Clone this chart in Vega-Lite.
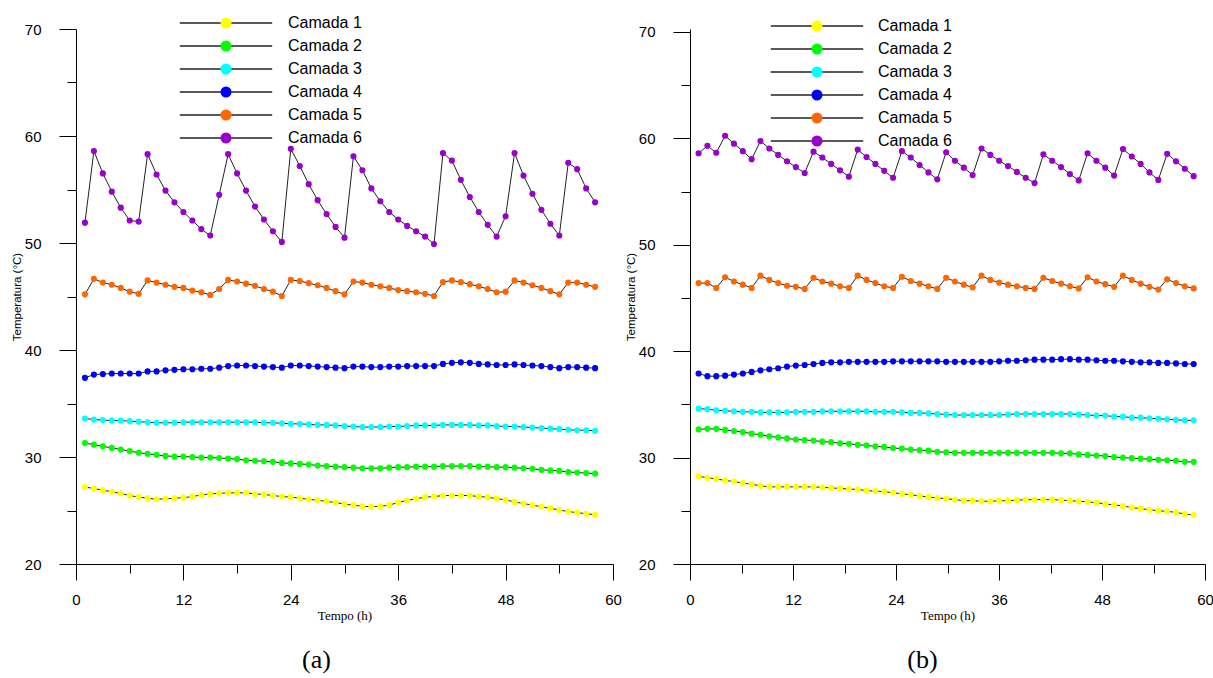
{
"$schema": "https://vega.github.io/schema/vega-lite/v6.json",
"background": "white",
"padding": {"left": 11, "top": 15, "right": 5, "bottom": 5},
"spacing": 3,
"config": {
  "view": {"stroke": null},
  "font": "Liberation Sans",
  "axis": {"domainColor": "black", "tickColor": "black", "labelColor": "black", "titleColor": "black", "grid": false, "labelFont": "Liberation Sans", "labelFontSize": 15, "tickWidth": 1, "domainWidth": 1, "labelFlush": false, "labelOverlap": false}
},
"datasets": {
"a": [
{"c":"Camada 1","t":1,"v":27.2},{"c":"Camada 1","t":2,"v":27.05},{"c":"Camada 1","t":3,"v":26.9},{"c":"Camada 1","t":4,"v":26.75},{"c":"Camada 1","t":5,"v":26.6},{"c":"Camada 1","t":6,"v":26.4},{"c":"Camada 1","t":7,"v":26.25},{"c":"Camada 1","t":8,"v":26.15},{"c":"Camada 1","t":9,"v":26.05},{"c":"Camada 1","t":10,"v":26.1},
{"c":"Camada 1","t":11,"v":26.15},{"c":"Camada 1","t":12,"v":26.2},{"c":"Camada 1","t":13,"v":26.3},{"c":"Camada 1","t":14,"v":26.45},{"c":"Camada 1","t":15,"v":26.55},{"c":"Camada 1","t":16,"v":26.6},{"c":"Camada 1","t":17,"v":26.65},{"c":"Camada 1","t":18,"v":26.65},{"c":"Camada 1","t":19,"v":26.65},{"c":"Camada 1","t":20,"v":26.55},
{"c":"Camada 1","t":21,"v":26.5},{"c":"Camada 1","t":22,"v":26.4},{"c":"Camada 1","t":23,"v":26.3},{"c":"Camada 1","t":24,"v":26.25},{"c":"Camada 1","t":25,"v":26.15},{"c":"Camada 1","t":26,"v":26.05},{"c":"Camada 1","t":27,"v":25.95},{"c":"Camada 1","t":28,"v":25.85},{"c":"Camada 1","t":29,"v":25.75},{"c":"Camada 1","t":30,"v":25.6},
{"c":"Camada 1","t":31,"v":25.5},{"c":"Camada 1","t":32,"v":25.4},{"c":"Camada 1","t":33,"v":25.35},{"c":"Camada 1","t":34,"v":25.4},{"c":"Camada 1","t":35,"v":25.5},{"c":"Camada 1","t":36,"v":25.75},{"c":"Camada 1","t":37,"v":25.95},{"c":"Camada 1","t":38,"v":26.1},{"c":"Camada 1","t":39,"v":26.25},{"c":"Camada 1","t":40,"v":26.3},
{"c":"Camada 1","t":41,"v":26.4},{"c":"Camada 1","t":42,"v":26.4},{"c":"Camada 1","t":43,"v":26.4},{"c":"Camada 1","t":44,"v":26.4},{"c":"Camada 1","t":45,"v":26.3},{"c":"Camada 1","t":46,"v":26.25},{"c":"Camada 1","t":47,"v":26.1},{"c":"Camada 1","t":48,"v":26.0},{"c":"Camada 1","t":49,"v":25.8},{"c":"Camada 1","t":50,"v":25.65},
{"c":"Camada 1","t":51,"v":25.5},{"c":"Camada 1","t":52,"v":25.35},{"c":"Camada 1","t":53,"v":25.2},{"c":"Camada 1","t":54,"v":25.05},{"c":"Camada 1","t":55,"v":24.9},{"c":"Camada 1","t":56,"v":24.8},{"c":"Camada 1","t":57,"v":24.7},{"c":"Camada 1","t":58,"v":24.6},
{"c":"Camada 2","t":1,"v":31.3},{"c":"Camada 2","t":2,"v":31.15},{"c":"Camada 2","t":3,"v":31.0},{"c":"Camada 2","t":4,"v":30.85},{"c":"Camada 2","t":5,"v":30.7},{"c":"Camada 2","t":6,"v":30.55},{"c":"Camada 2","t":7,"v":30.4},{"c":"Camada 2","t":8,"v":30.3},{"c":"Camada 2","t":9,"v":30.2},{"c":"Camada 2","t":10,"v":30.1},
{"c":"Camada 2","t":11,"v":30.05},{"c":"Camada 2","t":12,"v":30.05},{"c":"Camada 2","t":13,"v":30.0},{"c":"Camada 2","t":14,"v":29.95},{"c":"Camada 2","t":15,"v":29.95},{"c":"Camada 2","t":16,"v":29.9},{"c":"Camada 2","t":17,"v":29.85},{"c":"Camada 2","t":18,"v":29.8},{"c":"Camada 2","t":19,"v":29.7},{"c":"Camada 2","t":20,"v":29.65},
{"c":"Camada 2","t":21,"v":29.6},{"c":"Camada 2","t":22,"v":29.55},{"c":"Camada 2","t":23,"v":29.45},{"c":"Camada 2","t":24,"v":29.4},{"c":"Camada 2","t":25,"v":29.35},{"c":"Camada 2","t":26,"v":29.3},{"c":"Camada 2","t":27,"v":29.2},{"c":"Camada 2","t":28,"v":29.15},{"c":"Camada 2","t":29,"v":29.1},{"c":"Camada 2","t":30,"v":29.05},
{"c":"Camada 2","t":31,"v":29.0},{"c":"Camada 2","t":32,"v":28.95},{"c":"Camada 2","t":33,"v":28.95},{"c":"Camada 2","t":34,"v":28.95},{"c":"Camada 2","t":35,"v":29.0},{"c":"Camada 2","t":36,"v":29.05},{"c":"Camada 2","t":37,"v":29.05},{"c":"Camada 2","t":38,"v":29.1},{"c":"Camada 2","t":39,"v":29.1},{"c":"Camada 2","t":40,"v":29.1},
{"c":"Camada 2","t":41,"v":29.15},{"c":"Camada 2","t":42,"v":29.15},{"c":"Camada 2","t":43,"v":29.15},{"c":"Camada 2","t":44,"v":29.15},{"c":"Camada 2","t":45,"v":29.1},{"c":"Camada 2","t":46,"v":29.1},{"c":"Camada 2","t":47,"v":29.05},{"c":"Camada 2","t":48,"v":29.05},{"c":"Camada 2","t":49,"v":29.0},{"c":"Camada 2","t":50,"v":28.95},
{"c":"Camada 2","t":51,"v":28.9},{"c":"Camada 2","t":52,"v":28.8},{"c":"Camada 2","t":53,"v":28.75},{"c":"Camada 2","t":54,"v":28.7},{"c":"Camada 2","t":55,"v":28.6},{"c":"Camada 2","t":56,"v":28.55},{"c":"Camada 2","t":57,"v":28.5},{"c":"Camada 2","t":58,"v":28.45},
{"c":"Camada 3","t":1,"v":33.6},{"c":"Camada 3","t":2,"v":33.5},{"c":"Camada 3","t":3,"v":33.45},{"c":"Camada 3","t":4,"v":33.4},{"c":"Camada 3","t":5,"v":33.4},{"c":"Camada 3","t":6,"v":33.35},{"c":"Camada 3","t":7,"v":33.3},{"c":"Camada 3","t":8,"v":33.25},{"c":"Camada 3","t":9,"v":33.2},{"c":"Camada 3","t":10,"v":33.2},
{"c":"Camada 3","t":11,"v":33.2},{"c":"Camada 3","t":12,"v":33.25},{"c":"Camada 3","t":13,"v":33.25},{"c":"Camada 3","t":14,"v":33.25},{"c":"Camada 3","t":15,"v":33.25},{"c":"Camada 3","t":16,"v":33.25},{"c":"Camada 3","t":17,"v":33.25},{"c":"Camada 3","t":18,"v":33.25},{"c":"Camada 3","t":19,"v":33.25},{"c":"Camada 3","t":20,"v":33.25},
{"c":"Camada 3","t":21,"v":33.2},{"c":"Camada 3","t":22,"v":33.2},{"c":"Camada 3","t":23,"v":33.15},{"c":"Camada 3","t":24,"v":33.1},{"c":"Camada 3","t":25,"v":33.1},{"c":"Camada 3","t":26,"v":33.05},{"c":"Camada 3","t":27,"v":33.0},{"c":"Camada 3","t":28,"v":33.0},{"c":"Camada 3","t":29,"v":32.95},{"c":"Camada 3","t":30,"v":32.9},
{"c":"Camada 3","t":31,"v":32.85},{"c":"Camada 3","t":32,"v":32.8},{"c":"Camada 3","t":33,"v":32.8},{"c":"Camada 3","t":34,"v":32.8},{"c":"Camada 3","t":35,"v":32.85},{"c":"Camada 3","t":36,"v":32.85},{"c":"Camada 3","t":37,"v":32.9},{"c":"Camada 3","t":38,"v":32.95},{"c":"Camada 3","t":39,"v":32.95},{"c":"Camada 3","t":40,"v":32.95},
{"c":"Camada 3","t":41,"v":33.0},{"c":"Camada 3","t":42,"v":33.0},{"c":"Camada 3","t":43,"v":33.0},{"c":"Camada 3","t":44,"v":33.0},{"c":"Camada 3","t":45,"v":32.95},{"c":"Camada 3","t":46,"v":32.95},{"c":"Camada 3","t":47,"v":32.9},{"c":"Camada 3","t":48,"v":32.85},{"c":"Camada 3","t":49,"v":32.85},{"c":"Camada 3","t":50,"v":32.8},
{"c":"Camada 3","t":51,"v":32.75},{"c":"Camada 3","t":52,"v":32.7},{"c":"Camada 3","t":53,"v":32.65},{"c":"Camada 3","t":54,"v":32.6},{"c":"Camada 3","t":55,"v":32.55},{"c":"Camada 3","t":56,"v":32.5},{"c":"Camada 3","t":57,"v":32.5},{"c":"Camada 3","t":58,"v":32.45},
{"c":"Camada 4","t":1,"v":37.4},{"c":"Camada 4","t":2,"v":37.7},{"c":"Camada 4","t":3,"v":37.75},{"c":"Camada 4","t":4,"v":37.8},{"c":"Camada 4","t":5,"v":37.8},{"c":"Camada 4","t":6,"v":37.8},{"c":"Camada 4","t":7,"v":37.8},{"c":"Camada 4","t":8,"v":38.0},{"c":"Camada 4","t":9,"v":38.0},{"c":"Camada 4","t":10,"v":38.1},
{"c":"Camada 4","t":11,"v":38.15},{"c":"Camada 4","t":12,"v":38.2},{"c":"Camada 4","t":13,"v":38.2},{"c":"Camada 4","t":14,"v":38.25},{"c":"Camada 4","t":15,"v":38.25},{"c":"Camada 4","t":16,"v":38.35},{"c":"Camada 4","t":17,"v":38.5},{"c":"Camada 4","t":18,"v":38.55},{"c":"Camada 4","t":19,"v":38.55},{"c":"Camada 4","t":20,"v":38.5},
{"c":"Camada 4","t":21,"v":38.45},{"c":"Camada 4","t":22,"v":38.4},{"c":"Camada 4","t":23,"v":38.35},{"c":"Camada 4","t":24,"v":38.55},{"c":"Camada 4","t":25,"v":38.55},{"c":"Camada 4","t":26,"v":38.5},{"c":"Camada 4","t":27,"v":38.45},{"c":"Camada 4","t":28,"v":38.4},{"c":"Camada 4","t":29,"v":38.35},{"c":"Camada 4","t":30,"v":38.3},
{"c":"Camada 4","t":31,"v":38.45},{"c":"Camada 4","t":32,"v":38.45},{"c":"Camada 4","t":33,"v":38.4},{"c":"Camada 4","t":34,"v":38.4},{"c":"Camada 4","t":35,"v":38.45},{"c":"Camada 4","t":36,"v":38.45},{"c":"Camada 4","t":37,"v":38.5},{"c":"Camada 4","t":38,"v":38.5},{"c":"Camada 4","t":39,"v":38.5},{"c":"Camada 4","t":40,"v":38.5},
{"c":"Camada 4","t":41,"v":38.7},{"c":"Camada 4","t":42,"v":38.8},{"c":"Camada 4","t":43,"v":38.85},{"c":"Camada 4","t":44,"v":38.8},{"c":"Camada 4","t":45,"v":38.7},{"c":"Camada 4","t":46,"v":38.65},{"c":"Camada 4","t":47,"v":38.6},{"c":"Camada 4","t":48,"v":38.6},{"c":"Camada 4","t":49,"v":38.65},{"c":"Camada 4","t":50,"v":38.6},
{"c":"Camada 4","t":51,"v":38.55},{"c":"Camada 4","t":52,"v":38.5},{"c":"Camada 4","t":53,"v":38.4},{"c":"Camada 4","t":54,"v":38.3},{"c":"Camada 4","t":55,"v":38.4},{"c":"Camada 4","t":56,"v":38.4},{"c":"Camada 4","t":57,"v":38.35},{"c":"Camada 4","t":58,"v":38.3},
{"c":"Camada 5","t":1,"v":45.2},{"c":"Camada 5","t":2,"v":46.65},{"c":"Camada 5","t":3,"v":46.3},{"c":"Camada 5","t":4,"v":46.1},{"c":"Camada 5","t":5,"v":45.8},{"c":"Camada 5","t":6,"v":45.45},{"c":"Camada 5","t":7,"v":45.25},{"c":"Camada 5","t":8,"v":46.5},{"c":"Camada 5","t":9,"v":46.3},{"c":"Camada 5","t":10,"v":46.1},
{"c":"Camada 5","t":11,"v":45.9},{"c":"Camada 5","t":12,"v":45.8},{"c":"Camada 5","t":13,"v":45.55},{"c":"Camada 5","t":14,"v":45.4},{"c":"Camada 5","t":15,"v":45.15},{"c":"Camada 5","t":16,"v":45.7},{"c":"Camada 5","t":17,"v":46.55},{"c":"Camada 5","t":18,"v":46.4},{"c":"Camada 5","t":19,"v":46.2},{"c":"Camada 5","t":20,"v":46.0},
{"c":"Camada 5","t":21,"v":45.7},{"c":"Camada 5","t":22,"v":45.45},{"c":"Camada 5","t":23,"v":45.05},{"c":"Camada 5","t":24,"v":46.55},{"c":"Camada 5","t":25,"v":46.45},{"c":"Camada 5","t":26,"v":46.25},{"c":"Camada 5","t":27,"v":46.05},{"c":"Camada 5","t":28,"v":45.8},{"c":"Camada 5","t":29,"v":45.5},{"c":"Camada 5","t":30,"v":45.2},
{"c":"Camada 5","t":31,"v":46.4},{"c":"Camada 5","t":32,"v":46.3},{"c":"Camada 5","t":33,"v":46.1},{"c":"Camada 5","t":34,"v":45.95},{"c":"Camada 5","t":35,"v":45.8},{"c":"Camada 5","t":36,"v":45.6},{"c":"Camada 5","t":37,"v":45.5},{"c":"Camada 5","t":38,"v":45.4},{"c":"Camada 5","t":39,"v":45.25},{"c":"Camada 5","t":40,"v":45.05},
{"c":"Camada 5","t":41,"v":46.35},{"c":"Camada 5","t":42,"v":46.5},{"c":"Camada 5","t":43,"v":46.35},{"c":"Camada 5","t":44,"v":46.15},{"c":"Camada 5","t":45,"v":45.95},{"c":"Camada 5","t":46,"v":45.7},{"c":"Camada 5","t":47,"v":45.4},{"c":"Camada 5","t":48,"v":45.45},{"c":"Camada 5","t":49,"v":46.5},{"c":"Camada 5","t":50,"v":46.3},
{"c":"Camada 5","t":51,"v":46.05},{"c":"Camada 5","t":52,"v":45.8},{"c":"Camada 5","t":53,"v":45.5},{"c":"Camada 5","t":54,"v":45.2},{"c":"Camada 5","t":55,"v":46.3},{"c":"Camada 5","t":56,"v":46.3},{"c":"Camada 5","t":57,"v":46.1},{"c":"Camada 5","t":58,"v":45.9},
{"c":"Camada 6","t":1,"v":51.9},{"c":"Camada 6","t":2,"v":58.6},{"c":"Camada 6","t":3,"v":56.5},{"c":"Camada 6","t":4,"v":54.8},{"c":"Camada 6","t":5,"v":53.3},{"c":"Camada 6","t":6,"v":52.1},{"c":"Camada 6","t":7,"v":52.0},{"c":"Camada 6","t":8,"v":58.3},{"c":"Camada 6","t":9,"v":56.4},{"c":"Camada 6","t":10,"v":54.9},
{"c":"Camada 6","t":11,"v":53.8},{"c":"Camada 6","t":12,"v":52.9},{"c":"Camada 6","t":13,"v":52.1},{"c":"Camada 6","t":14,"v":51.3},{"c":"Camada 6","t":15,"v":50.7},{"c":"Camada 6","t":16,"v":54.5},{"c":"Camada 6","t":17,"v":58.3},{"c":"Camada 6","t":18,"v":56.5},{"c":"Camada 6","t":19,"v":54.9},{"c":"Camada 6","t":20,"v":53.4},
{"c":"Camada 6","t":21,"v":52.2},{"c":"Camada 6","t":22,"v":51.1},{"c":"Camada 6","t":23,"v":50.1},{"c":"Camada 6","t":24,"v":58.8},{"c":"Camada 6","t":25,"v":57.2},{"c":"Camada 6","t":26,"v":55.5},{"c":"Camada 6","t":27,"v":54.0},{"c":"Camada 6","t":28,"v":52.7},{"c":"Camada 6","t":29,"v":51.5},{"c":"Camada 6","t":30,"v":50.5},
{"c":"Camada 6","t":31,"v":58.1},{"c":"Camada 6","t":32,"v":56.8},{"c":"Camada 6","t":33,"v":55.1},{"c":"Camada 6","t":34,"v":53.9},{"c":"Camada 6","t":35,"v":52.9},{"c":"Camada 6","t":36,"v":52.2},{"c":"Camada 6","t":37,"v":51.6},{"c":"Camada 6","t":38,"v":51.1},{"c":"Camada 6","t":39,"v":50.6},{"c":"Camada 6","t":40,"v":49.9},
{"c":"Camada 6","t":41,"v":58.4},{"c":"Camada 6","t":42,"v":57.7},{"c":"Camada 6","t":43,"v":55.9},{"c":"Camada 6","t":44,"v":54.3},{"c":"Camada 6","t":45,"v":52.9},{"c":"Camada 6","t":46,"v":51.7},{"c":"Camada 6","t":47,"v":50.6},{"c":"Camada 6","t":48,"v":52.5},{"c":"Camada 6","t":49,"v":58.4},{"c":"Camada 6","t":50,"v":56.3},
{"c":"Camada 6","t":51,"v":54.6},{"c":"Camada 6","t":52,"v":53.1},{"c":"Camada 6","t":53,"v":51.8},{"c":"Camada 6","t":54,"v":50.7},{"c":"Camada 6","t":55,"v":57.5},{"c":"Camada 6","t":56,"v":56.9},{"c":"Camada 6","t":57,"v":55.1},{"c":"Camada 6","t":58,"v":53.8}
],
"b": [
{"c":"Camada 1","t":1,"v":28.25},{"c":"Camada 1","t":2.03,"v":28.1},{"c":"Camada 1","t":3.06,"v":28.0},{"c":"Camada 1","t":4.09,"v":27.85},{"c":"Camada 1","t":5.12,"v":27.75},{"c":"Camada 1","t":6.15,"v":27.6},{"c":"Camada 1","t":7.18,"v":27.5},{"c":"Camada 1","t":8.21,"v":27.35},{"c":"Camada 1","t":9.24,"v":27.25},{"c":"Camada 1","t":10.27,"v":27.25},
{"c":"Camada 1","t":11.3,"v":27.25},{"c":"Camada 1","t":12.33,"v":27.25},{"c":"Camada 1","t":13.36,"v":27.25},{"c":"Camada 1","t":14.39,"v":27.25},{"c":"Camada 1","t":15.42,"v":27.2},{"c":"Camada 1","t":16.45,"v":27.15},{"c":"Camada 1","t":17.48,"v":27.1},{"c":"Camada 1","t":18.51,"v":27.05},{"c":"Camada 1","t":19.54,"v":27.0},{"c":"Camada 1","t":20.57,"v":26.9},
{"c":"Camada 1","t":21.6,"v":26.85},{"c":"Camada 1","t":22.63,"v":26.8},{"c":"Camada 1","t":23.66,"v":26.7},{"c":"Camada 1","t":24.69,"v":26.6},{"c":"Camada 1","t":25.72,"v":26.5},{"c":"Camada 1","t":26.75,"v":26.4},{"c":"Camada 1","t":27.78,"v":26.3},{"c":"Camada 1","t":28.81,"v":26.2},{"c":"Camada 1","t":29.84,"v":26.15},{"c":"Camada 1","t":30.87,"v":26.05},
{"c":"Camada 1","t":31.9,"v":25.95},{"c":"Camada 1","t":32.93,"v":25.95},{"c":"Camada 1","t":33.96,"v":25.9},{"c":"Camada 1","t":34.99,"v":25.9},{"c":"Camada 1","t":36.02,"v":25.95},{"c":"Camada 1","t":37.05,"v":25.95},{"c":"Camada 1","t":38.08,"v":26.0},{"c":"Camada 1","t":39.11,"v":26.05},{"c":"Camada 1","t":40.14,"v":26.05},{"c":"Camada 1","t":41.17,"v":26.05},
{"c":"Camada 1","t":42.2,"v":26.05},{"c":"Camada 1","t":43.23,"v":26.0},{"c":"Camada 1","t":44.26,"v":25.95},{"c":"Camada 1","t":45.29,"v":25.9},{"c":"Camada 1","t":46.32,"v":25.85},{"c":"Camada 1","t":47.35,"v":25.75},{"c":"Camada 1","t":48.38,"v":25.65},{"c":"Camada 1","t":49.41,"v":25.55},{"c":"Camada 1","t":50.44,"v":25.45},{"c":"Camada 1","t":51.47,"v":25.3},
{"c":"Camada 1","t":52.5,"v":25.2},{"c":"Camada 1","t":53.53,"v":25.1},{"c":"Camada 1","t":54.56,"v":25.0},{"c":"Camada 1","t":55.59,"v":24.95},{"c":"Camada 1","t":56.62,"v":24.85},{"c":"Camada 1","t":57.65,"v":24.7},{"c":"Camada 1","t":58.68,"v":24.6},
{"c":"Camada 2","t":1,"v":32.65},{"c":"Camada 2","t":2.03,"v":32.7},{"c":"Camada 2","t":3.06,"v":32.7},{"c":"Camada 2","t":4.09,"v":32.6},{"c":"Camada 2","t":5.12,"v":32.5},{"c":"Camada 2","t":6.15,"v":32.4},{"c":"Camada 2","t":7.18,"v":32.25},{"c":"Camada 2","t":8.21,"v":32.15},{"c":"Camada 2","t":9.24,"v":32.0},{"c":"Camada 2","t":10.27,"v":31.9},
{"c":"Camada 2","t":11.3,"v":31.8},{"c":"Camada 2","t":12.33,"v":31.7},{"c":"Camada 2","t":13.36,"v":31.65},{"c":"Camada 2","t":14.39,"v":31.6},{"c":"Camada 2","t":15.42,"v":31.5},{"c":"Camada 2","t":16.45,"v":31.45},{"c":"Camada 2","t":17.48,"v":31.35},{"c":"Camada 2","t":18.51,"v":31.3},{"c":"Camada 2","t":19.54,"v":31.2},{"c":"Camada 2","t":20.57,"v":31.15},
{"c":"Camada 2","t":21.6,"v":31.05},{"c":"Camada 2","t":22.63,"v":31.0},{"c":"Camada 2","t":23.66,"v":30.9},{"c":"Camada 2","t":24.69,"v":30.85},{"c":"Camada 2","t":25.72,"v":30.75},{"c":"Camada 2","t":26.75,"v":30.7},{"c":"Camada 2","t":27.78,"v":30.65},{"c":"Camada 2","t":28.81,"v":30.55},{"c":"Camada 2","t":29.84,"v":30.5},{"c":"Camada 2","t":30.87,"v":30.45},
{"c":"Camada 2","t":31.9,"v":30.45},{"c":"Camada 2","t":32.93,"v":30.45},{"c":"Camada 2","t":33.96,"v":30.45},{"c":"Camada 2","t":34.99,"v":30.45},{"c":"Camada 2","t":36.02,"v":30.45},{"c":"Camada 2","t":37.05,"v":30.45},{"c":"Camada 2","t":38.08,"v":30.45},{"c":"Camada 2","t":39.11,"v":30.45},{"c":"Camada 2","t":40.14,"v":30.45},{"c":"Camada 2","t":41.17,"v":30.45},
{"c":"Camada 2","t":42.2,"v":30.45},{"c":"Camada 2","t":43.23,"v":30.4},{"c":"Camada 2","t":44.26,"v":30.4},{"c":"Camada 2","t":45.29,"v":30.3},{"c":"Camada 2","t":46.32,"v":30.25},{"c":"Camada 2","t":47.35,"v":30.2},{"c":"Camada 2","t":48.38,"v":30.15},{"c":"Camada 2","t":49.41,"v":30.05},{"c":"Camada 2","t":50.44,"v":30.0},{"c":"Camada 2","t":51.47,"v":29.95},
{"c":"Camada 2","t":52.5,"v":29.9},{"c":"Camada 2","t":53.53,"v":29.85},{"c":"Camada 2","t":54.56,"v":29.8},{"c":"Camada 2","t":55.59,"v":29.75},{"c":"Camada 2","t":56.62,"v":29.7},{"c":"Camada 2","t":57.65,"v":29.6},{"c":"Camada 2","t":58.68,"v":29.6},
{"c":"Camada 3","t":1,"v":34.6},{"c":"Camada 3","t":2.03,"v":34.55},{"c":"Camada 3","t":3.06,"v":34.45},{"c":"Camada 3","t":4.09,"v":34.4},{"c":"Camada 3","t":5.12,"v":34.35},{"c":"Camada 3","t":6.15,"v":34.3},{"c":"Camada 3","t":7.18,"v":34.3},{"c":"Camada 3","t":8.21,"v":34.25},{"c":"Camada 3","t":9.24,"v":34.25},{"c":"Camada 3","t":10.27,"v":34.25},
{"c":"Camada 3","t":11.3,"v":34.25},{"c":"Camada 3","t":12.33,"v":34.3},{"c":"Camada 3","t":13.36,"v":34.3},{"c":"Camada 3","t":14.39,"v":34.3},{"c":"Camada 3","t":15.42,"v":34.35},{"c":"Camada 3","t":16.45,"v":34.35},{"c":"Camada 3","t":17.48,"v":34.35},{"c":"Camada 3","t":18.51,"v":34.35},{"c":"Camada 3","t":19.54,"v":34.35},{"c":"Camada 3","t":20.57,"v":34.35},
{"c":"Camada 3","t":21.6,"v":34.3},{"c":"Camada 3","t":22.63,"v":34.3},{"c":"Camada 3","t":23.66,"v":34.3},{"c":"Camada 3","t":24.69,"v":34.25},{"c":"Camada 3","t":25.72,"v":34.2},{"c":"Camada 3","t":26.75,"v":34.2},{"c":"Camada 3","t":27.78,"v":34.15},{"c":"Camada 3","t":28.81,"v":34.1},{"c":"Camada 3","t":29.84,"v":34.05},{"c":"Camada 3","t":30.87,"v":34.0},
{"c":"Camada 3","t":31.9,"v":34.0},{"c":"Camada 3","t":32.93,"v":34.0},{"c":"Camada 3","t":33.96,"v":34.0},{"c":"Camada 3","t":34.99,"v":34.0},{"c":"Camada 3","t":36.02,"v":34.0},{"c":"Camada 3","t":37.05,"v":34.05},{"c":"Camada 3","t":38.08,"v":34.1},{"c":"Camada 3","t":39.11,"v":34.1},{"c":"Camada 3","t":40.14,"v":34.1},{"c":"Camada 3","t":41.17,"v":34.1},
{"c":"Camada 3","t":42.2,"v":34.1},{"c":"Camada 3","t":43.23,"v":34.1},{"c":"Camada 3","t":44.26,"v":34.1},{"c":"Camada 3","t":45.29,"v":34.05},{"c":"Camada 3","t":46.32,"v":34.0},{"c":"Camada 3","t":47.35,"v":33.95},{"c":"Camada 3","t":48.38,"v":33.95},{"c":"Camada 3","t":49.41,"v":33.85},{"c":"Camada 3","t":50.44,"v":33.85},{"c":"Camada 3","t":51.47,"v":33.75},
{"c":"Camada 3","t":52.5,"v":33.75},{"c":"Camada 3","t":53.53,"v":33.7},{"c":"Camada 3","t":54.56,"v":33.65},{"c":"Camada 3","t":55.59,"v":33.6},{"c":"Camada 3","t":56.62,"v":33.55},{"c":"Camada 3","t":57.65,"v":33.5},{"c":"Camada 3","t":58.68,"v":33.5},
{"c":"Camada 4","t":1,"v":37.9},{"c":"Camada 4","t":2.03,"v":37.65},{"c":"Camada 4","t":3.06,"v":37.65},{"c":"Camada 4","t":4.09,"v":37.7},{"c":"Camada 4","t":5.12,"v":37.8},{"c":"Camada 4","t":6.15,"v":37.9},{"c":"Camada 4","t":7.18,"v":38.05},{"c":"Camada 4","t":8.21,"v":38.2},{"c":"Camada 4","t":9.24,"v":38.3},{"c":"Camada 4","t":10.27,"v":38.4},
{"c":"Camada 4","t":11.3,"v":38.55},{"c":"Camada 4","t":12.33,"v":38.65},{"c":"Camada 4","t":13.36,"v":38.7},{"c":"Camada 4","t":14.39,"v":38.8},{"c":"Camada 4","t":15.42,"v":38.9},{"c":"Camada 4","t":16.45,"v":38.95},{"c":"Camada 4","t":17.48,"v":38.95},{"c":"Camada 4","t":18.51,"v":39.0},{"c":"Camada 4","t":19.54,"v":39.0},{"c":"Camada 4","t":20.57,"v":39.0},
{"c":"Camada 4","t":21.6,"v":39.0},{"c":"Camada 4","t":22.63,"v":39.0},{"c":"Camada 4","t":23.66,"v":39.05},{"c":"Camada 4","t":24.69,"v":39.05},{"c":"Camada 4","t":25.72,"v":39.05},{"c":"Camada 4","t":26.75,"v":39.05},{"c":"Camada 4","t":27.78,"v":39.05},{"c":"Camada 4","t":28.81,"v":39.05},{"c":"Camada 4","t":29.84,"v":39.0},{"c":"Camada 4","t":30.87,"v":39.0},
{"c":"Camada 4","t":31.9,"v":39.0},{"c":"Camada 4","t":32.93,"v":39.0},{"c":"Camada 4","t":33.96,"v":39.0},{"c":"Camada 4","t":34.99,"v":39.0},{"c":"Camada 4","t":36.02,"v":39.05},{"c":"Camada 4","t":37.05,"v":39.1},{"c":"Camada 4","t":38.08,"v":39.1},{"c":"Camada 4","t":39.11,"v":39.15},{"c":"Camada 4","t":40.14,"v":39.2},{"c":"Camada 4","t":41.17,"v":39.2},
{"c":"Camada 4","t":42.2,"v":39.2},{"c":"Camada 4","t":43.23,"v":39.25},{"c":"Camada 4","t":44.26,"v":39.25},{"c":"Camada 4","t":45.29,"v":39.2},{"c":"Camada 4","t":46.32,"v":39.2},{"c":"Camada 4","t":47.35,"v":39.15},{"c":"Camada 4","t":48.38,"v":39.1},{"c":"Camada 4","t":49.41,"v":39.1},{"c":"Camada 4","t":50.44,"v":39.05},{"c":"Camada 4","t":51.47,"v":39.0},
{"c":"Camada 4","t":52.5,"v":38.95},{"c":"Camada 4","t":53.53,"v":38.95},{"c":"Camada 4","t":54.56,"v":38.9},{"c":"Camada 4","t":55.59,"v":38.9},{"c":"Camada 4","t":56.62,"v":38.85},{"c":"Camada 4","t":57.65,"v":38.8},{"c":"Camada 4","t":58.68,"v":38.8},
{"c":"Camada 5","t":1,"v":46.4},{"c":"Camada 5","t":2.03,"v":46.4},{"c":"Camada 5","t":3.06,"v":45.95},{"c":"Camada 5","t":4.09,"v":46.95},{"c":"Camada 5","t":5.12,"v":46.55},{"c":"Camada 5","t":6.15,"v":46.25},{"c":"Camada 5","t":7.18,"v":45.95},{"c":"Camada 5","t":8.21,"v":47.1},{"c":"Camada 5","t":9.24,"v":46.7},{"c":"Camada 5","t":10.27,"v":46.4},
{"c":"Camada 5","t":11.3,"v":46.15},{"c":"Camada 5","t":12.33,"v":46.05},{"c":"Camada 5","t":13.36,"v":45.85},{"c":"Camada 5","t":14.39,"v":46.9},{"c":"Camada 5","t":15.42,"v":46.55},{"c":"Camada 5","t":16.45,"v":46.35},{"c":"Camada 5","t":17.48,"v":46.1},{"c":"Camada 5","t":18.51,"v":45.95},{"c":"Camada 5","t":19.54,"v":47.1},{"c":"Camada 5","t":20.57,"v":46.7},
{"c":"Camada 5","t":21.6,"v":46.4},{"c":"Camada 5","t":22.63,"v":46.1},{"c":"Camada 5","t":23.66,"v":45.95},{"c":"Camada 5","t":24.69,"v":47.0},{"c":"Camada 5","t":25.72,"v":46.6},{"c":"Camada 5","t":26.75,"v":46.35},{"c":"Camada 5","t":27.78,"v":46.1},{"c":"Camada 5","t":28.81,"v":45.85},{"c":"Camada 5","t":29.84,"v":46.9},{"c":"Camada 5","t":30.87,"v":46.55},
{"c":"Camada 5","t":31.9,"v":46.25},{"c":"Camada 5","t":32.93,"v":46.0},{"c":"Camada 5","t":33.96,"v":47.1},{"c":"Camada 5","t":34.99,"v":46.7},{"c":"Camada 5","t":36.02,"v":46.45},{"c":"Camada 5","t":37.05,"v":46.25},{"c":"Camada 5","t":38.08,"v":46.1},{"c":"Camada 5","t":39.11,"v":45.95},{"c":"Camada 5","t":40.14,"v":45.85},{"c":"Camada 5","t":41.17,"v":46.9},
{"c":"Camada 5","t":42.2,"v":46.6},{"c":"Camada 5","t":43.23,"v":46.35},{"c":"Camada 5","t":44.26,"v":46.1},{"c":"Camada 5","t":45.29,"v":45.9},{"c":"Camada 5","t":46.32,"v":46.95},{"c":"Camada 5","t":47.35,"v":46.55},{"c":"Camada 5","t":48.38,"v":46.3},{"c":"Camada 5","t":49.41,"v":46.05},{"c":"Camada 5","t":50.44,"v":47.1},{"c":"Camada 5","t":51.47,"v":46.7},
{"c":"Camada 5","t":52.5,"v":46.35},{"c":"Camada 5","t":53.53,"v":46.05},{"c":"Camada 5","t":54.56,"v":45.8},{"c":"Camada 5","t":55.59,"v":46.75},{"c":"Camada 5","t":56.62,"v":46.4},{"c":"Camada 5","t":57.65,"v":46.1},{"c":"Camada 5","t":58.68,"v":45.9},
{"c":"Camada 6","t":1,"v":58.6},{"c":"Camada 6","t":2.03,"v":59.3},{"c":"Camada 6","t":3.06,"v":58.65},{"c":"Camada 6","t":4.09,"v":60.25},{"c":"Camada 6","t":5.12,"v":59.5},{"c":"Camada 6","t":6.15,"v":58.8},{"c":"Camada 6","t":7.18,"v":58.05},{"c":"Camada 6","t":8.21,"v":59.75},{"c":"Camada 6","t":9.24,"v":59.05},{"c":"Camada 6","t":10.27,"v":58.45},
{"c":"Camada 6","t":11.3,"v":57.85},{"c":"Camada 6","t":12.33,"v":57.3},{"c":"Camada 6","t":13.36,"v":56.75},{"c":"Camada 6","t":14.39,"v":58.75},{"c":"Camada 6","t":15.42,"v":58.2},{"c":"Camada 6","t":16.45,"v":57.6},{"c":"Camada 6","t":17.48,"v":57.0},{"c":"Camada 6","t":18.51,"v":56.4},{"c":"Camada 6","t":19.54,"v":58.95},{"c":"Camada 6","t":20.57,"v":58.25},
{"c":"Camada 6","t":21.6,"v":57.6},{"c":"Camada 6","t":22.63,"v":56.95},{"c":"Camada 6","t":23.66,"v":56.3},{"c":"Camada 6","t":24.69,"v":58.8},{"c":"Camada 6","t":25.72,"v":58.2},{"c":"Camada 6","t":26.75,"v":57.5},{"c":"Camada 6","t":27.78,"v":56.8},{"c":"Camada 6","t":28.81,"v":56.15},{"c":"Camada 6","t":29.84,"v":58.7},{"c":"Camada 6","t":30.87,"v":57.9},
{"c":"Camada 6","t":31.9,"v":57.25},{"c":"Camada 6","t":32.93,"v":56.55},{"c":"Camada 6","t":33.96,"v":59.05},{"c":"Camada 6","t":34.99,"v":58.45},{"c":"Camada 6","t":36.02,"v":57.9},{"c":"Camada 6","t":37.05,"v":57.4},{"c":"Camada 6","t":38.08,"v":56.85},{"c":"Camada 6","t":39.11,"v":56.3},{"c":"Camada 6","t":40.14,"v":55.8},{"c":"Camada 6","t":41.17,"v":58.5},
{"c":"Camada 6","t":42.2,"v":57.9},{"c":"Camada 6","t":43.23,"v":57.3},{"c":"Camada 6","t":44.26,"v":56.65},{"c":"Camada 6","t":45.29,"v":56.05},{"c":"Camada 6","t":46.32,"v":58.6},{"c":"Camada 6","t":47.35,"v":57.9},{"c":"Camada 6","t":48.38,"v":57.25},{"c":"Camada 6","t":49.41,"v":56.5},{"c":"Camada 6","t":50.44,"v":59.0},{"c":"Camada 6","t":51.47,"v":58.3},
{"c":"Camada 6","t":52.5,"v":57.6},{"c":"Camada 6","t":53.53,"v":56.8},{"c":"Camada 6","t":54.56,"v":56.1},{"c":"Camada 6","t":55.59,"v":58.55},{"c":"Camada 6","t":56.62,"v":57.85},{"c":"Camada 6","t":57.65,"v":57.15},{"c":"Camada 6","t":58.68,"v":56.45}
]
},
"hconcat": [
{
  "width": 537, "height": 535,
  "data": {"name": "a"},
  "title": {"text": "(a)", "orient": "bottom", "anchor": "middle", "frame": "group", "dx": -28, "font": "Liberation Serif", "fontSize": 26, "fontWeight": "normal", "offset": 25, "color": "black"},
  "encoding": {
    "x": {"field": "t", "type": "quantitative", "scale": {"domain": [0, 60], "nice": false, "zero": false},
      "axis": {"values": [0,6,12,18,24,30,36,42,48,54,60], "labelExpr": "datum.value % 12 === 0 ? datum.label : ''", "tickSize": {"condition": {"test": "datum.value % 12 === 0", "value": 16}, "value": 9}, "labelPadding": 12, "title": "Tempo (h)", "titleFont": "Liberation Serif", "titleFontSize": 13, "titleFontWeight": "normal", "titlePadding": 2}},
    "y": {"field": "v", "type": "quantitative", "scale": {"domain": [20, 70], "nice": false, "zero": false},
      "axis": {"values": [20,25,30,35,40,45,50,55,60,65,70], "labelExpr": "datum.value % 10 === 0 ? datum.label : ''", "tickSize": {"condition": {"test": "datum.value % 10 === 0", "value": 17}, "value": 9}, "labelPadding": 18, "title": "Temperatura (°C)", "titleFontSize": 11.5, "titleFontWeight": "normal", "titlePadding": 2}}
  },
  "layer": [
    {"mark": {"type": "line", "strokeWidth": 1},
     "encoding": {"color": {"field": "c", "type": "nominal", "scale": {"domain": ["Camada 1","Camada 2","Camada 3","Camada 4","Camada 5","Camada 6"], "range": ["#222","#222","#222","#222","#222","#222"]},
       "legend": {"orient": "none", "legendX": 142, "legendY": -14, "title": null, "padding": 0, "symbolType": "M-8.4,0H8.4", "symbolSize": 121, "symbolStrokeWidth": 1.3, "labelFont": "Liberation Sans", "labelFontSize": 16, "labelColor": "black", "labelOffset": 54, "rowPadding": 7}}}},
    {"mark": {"type": "point", "filled": true, "opacity": 1, "size": 38, "strokeWidth": 0},
     "encoding": {"fill": {"field": "c", "type": "nominal", "scale": {"range": ["#FFFF00","#00FF00","#00FFFF","#0000FF","#FF6600","#9900CC"]},
       "legend": {"orient": "none", "legendX": 142, "legendY": -14, "title": null, "padding": 0, "symbolType": "circle", "symbolSize": 121, "symbolStrokeWidth": 0, "symbolOpacity": 1, "labelFont": "Liberation Sans", "labelFontSize": 16, "labelOpacity": 0, "labelOffset": 54, "rowPadding": 7}}}}
  ]
},
{
  "width": 515, "height": 535,
  "data": {"name": "b"},
  "title": {"text": "(b)", "orient": "bottom", "anchor": "middle", "frame": "group", "dx": -25, "font": "Liberation Serif", "fontSize": 26, "fontWeight": "normal", "offset": 25, "color": "black"},
  "encoding": {
    "x": {"field": "t", "type": "quantitative", "scale": {"domain": [0, 60], "nice": false, "zero": false},
      "axis": {"values": [0,6,12,18,24,30,36,42,48,54,60], "labelExpr": "datum.value % 12 === 0 ? datum.label : ''", "tickSize": {"condition": {"test": "datum.value % 12 === 0", "value": 16}, "value": 9}, "labelPadding": 12, "title": "Tempo (h)", "titleFont": "Liberation Serif", "titleFontSize": 13, "titleFontWeight": "normal", "titlePadding": 2}},
    "y": {"field": "v", "type": "quantitative", "scale": {"domain": [20, 70.28], "nice": false, "zero": false},
      "axis": {"values": [20,25,30,35,40,45,50,55,60,65,70], "labelExpr": "datum.value % 10 === 0 ? datum.label : ''", "tickSize": {"condition": {"test": "datum.value % 10 === 0", "value": 17}, "value": 9}, "labelPadding": 18, "title": "Temperatura (°C)", "titleFontSize": 11.5, "titleFontWeight": "normal", "titlePadding": 2}}
  },
  "layer": [
    {"mark": {"type": "line", "strokeWidth": 1},
     "encoding": {"color": {"field": "c", "type": "nominal", "scale": {"domain": ["Camada 1","Camada 2","Camada 3","Camada 4","Camada 5","Camada 6"], "range": ["#222","#222","#222","#222","#222","#222"]},
       "legend": {"orient": "none", "legendX": 119, "legendY": -11, "title": null, "padding": 0, "symbolType": "M-8.4,0H8.4", "symbolSize": 121, "symbolStrokeWidth": 1.3, "labelFont": "Liberation Sans", "labelFontSize": 16, "labelColor": "black", "labelOffset": 53, "rowPadding": 7}}}},
    {"mark": {"type": "point", "filled": true, "opacity": 1, "size": 38, "strokeWidth": 0},
     "encoding": {"fill": {"field": "c", "type": "nominal", "scale": {"range": ["#FFFF00","#00FF00","#00FFFF","#0000FF","#FF6600","#9900CC"]},
       "legend": {"orient": "none", "legendX": 119, "legendY": -11, "title": null, "padding": 0, "symbolType": "circle", "symbolSize": 121, "symbolStrokeWidth": 0, "symbolOpacity": 1, "labelFont": "Liberation Sans", "labelFontSize": 16, "labelOpacity": 0, "labelOffset": 53, "rowPadding": 7}}}}
  ]
}
],
"resolve": {"scale": {"color": "independent", "fill": "independent"}, "legend": {"color": "independent", "fill": "independent"}}
}
